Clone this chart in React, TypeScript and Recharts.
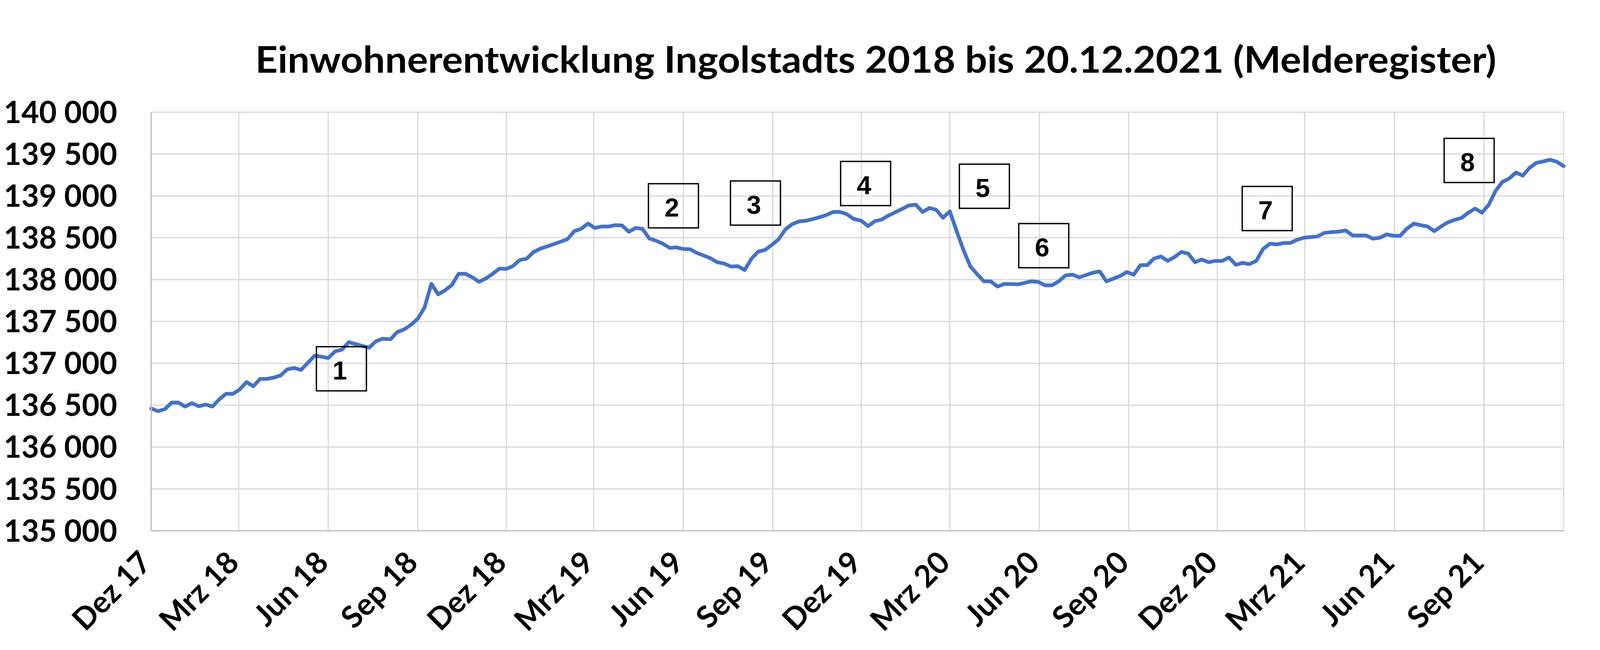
import { CartesianGrid, Line, LineChart, XAxis, YAxis } from "recharts";

// Einwohner Ingolstadt (Melderegister), wöchentliche Stände ab 29.12.2017
const einwohner2018 = [
  136461, 136429, 136452, 136531, 136531, 136484, 136524, 136487, 136508, 136484,
  136571, 136636, 136636, 136688, 136776, 136727, 136814, 136814, 136830, 136855,
  136929, 136945, 136921, 137005, 137092, 137079, 137063, 137142, 137163, 137252,
  137231, 137208, 137187, 137263, 137294, 137287, 137374, 137405, 137460, 137532,
  137666, 137950, 137824, 137871, 137934, 138069, 138069, 138029, 137974, 138013,
  138069, 138132,
];
const einwohner2019 = [
  138127, 138163, 138235, 138250, 138329, 138369, 138396, 138424, 138453, 138484,
  138579, 138606, 138669, 138618, 138634, 138634, 138650, 138647, 138571, 138618,
  138606, 138492, 138464, 138429, 138379, 138385, 138366, 138363, 138319, 138287,
  138255, 138208, 138192, 138156, 138161, 138114, 138248, 138334, 138355, 138414,
  138482, 138600, 138663, 138695, 138703, 138723, 138745, 138771, 138808, 138808,
  138782, 138726,
];
const einwohner2020 = [
  138703, 138639, 138698, 138718, 138766, 138805, 138845, 138887, 138895, 138808,
  138856, 138834, 138739, 138816, 138579, 138354, 138160, 138066, 137980, 137980,
  137917, 137948, 137947, 137943, 137962, 137980, 137972, 137932, 137932, 137980,
  138051, 138059, 138027, 138055, 138082, 138098, 137980, 138011, 138043, 138090,
  138059, 138174, 138174, 138253, 138276, 138224, 138270, 138331, 138311, 138208,
  138240, 138208,
];
const einwohner2021 = [
  138224, 138224, 138264, 138177, 138200, 138185, 138224, 138366, 138429, 138421,
  138437, 138437, 138476, 138500, 138508, 138516, 138558, 138568, 138574, 138587,
  138527, 138527, 138527, 138489, 138500, 138540, 138524, 138524, 138611, 138669,
  138650, 138635, 138579, 138635, 138685, 138714, 138737, 138800, 138848, 138800,
  138895, 139061, 139167, 139208, 139279, 139242, 139337, 139395, 139411, 139432,
  139408, 139356,
];

const tickLabels = [
  "Dez 17", "Mrz 18", "Jun 18", "Sep 18", "Dez 18", "Mrz 19", "Jun 19", "Sep 19",
  "Dez 19", "Mrz 20", "Jun 20", "Sep 20", "Dez 20", "Mrz 21", "Jun 21", "Sep 21",
];
const yTicks = [135000, 135500, 136000, 136500, 137000, 137500, 138000, 138500, 139000, 139500, 140000];
const markers = ["1", "2", "3", "4", "5", "6", "7", "8"];

const DAY = 86400000;
const startDate = Date.UTC(2017, 11, 29);
const endDay = (Date.UTC(2021, 11, 20) - startDate) / DAY;

const values = [...einwohner2018, ...einwohner2019, ...einwohner2020, ...einwohner2021];
const chartData = values.map((v, i) => ({
  day: Math.round((i * endDay) / (values.length - 1)),
  einwohner: v,
}));
const tickDays = tickLabels.map((_, k) => (Date.UTC(2017, 11 + 3 * k, 29) - startDate) / DAY);

// Layout der Boxen in Pixeln (links, oben)
const markerBoxes = [
  [810, 887], [1660, 470], [1870, 463], [2152, 413],
  [2456, 420], [2608, 572], [3180, 477], [3697, 354],
];

const W = 4133;
const H = 1663;
const font = "Lato, 'Open Sans', sans-serif";

const fmt = (v: number) => String(v).replace(/(\d)(?=(\d{3})+$)/g, "$1 ");

const MonthTick = ({ x, y, payload }: any) => {
  const idx = tickDays.indexOf(payload.value);
  const tx = x + 5;
  const ty = y + 86;
  return (
    <text
      x={tx}
      y={ty}
      transform={`rotate(-45, ${tx}, ${ty})`}
      textAnchor="end"
      fontFamily={font}
      fontWeight={700}
      fontSize={78}
      fill="#000"
    >
      {tickLabels[idx]}
    </text>
  );
};

export default function App() {
  return (
    <div style={{ position: "absolute", left: 0, top: 0, width: W, height: H, background: "#fff" }}>
      <LineChart width={W} height={H} data={chartData} margin={{ top: 287, right: 130, bottom: 105, left: 87 }}>
        <CartesianGrid stroke="#d9d9d9" strokeWidth={3} />
        <XAxis
          dataKey="day"
          type="number"
          domain={[0, endDay]}
          ticks={tickDays}
          interval={0}
          height={200}
          tickSize={0}
          tickMargin={0}
          axisLine={{ stroke: "#bfbfbf", strokeWidth: 3 }}
          tickLine={false}
          tick={<MonthTick />}
        />
        <YAxis
          type="number"
          domain={[135000, 140000]}
          ticks={yTicks}
          interval={0}
          width={300}
          tickSize={0}
          tickMargin={87}
          tickFormatter={fmt}
          axisLine={{ stroke: "#bfbfbf", strokeWidth: 3 }}
          tickLine={false}
          tick={{ fontFamily: font, fontWeight: 700, fontSize: 78, fill: "#000" }}
        />
        <Line
          type="linear"
          dataKey="einwohner"
          stroke="#4472C4"
          strokeWidth={9.5}
          strokeLinejoin="round"
          strokeLinecap="round"
          dot={false}
          isAnimationActive={false}
        />
      </LineChart>
      <svg
        width={W}
        height={H}
        style={{ position: "absolute", left: 0, top: 0, pointerEvents: "none" }}
      >
        <text
          x={2242}
          y={186}
          textAnchor="middle"
          fontFamily={font}
          fontWeight={700}
          fontSize={93}
          textLength={3177}
          lengthAdjust="spacingAndGlyphs"
          fill="#000"
        >
          Einwohnerentwicklung Ingolstadts 2018 bis 20.12.2021 (Melderegister)
        </text>
        {markers.map((m, i) => {
          const [bx, by] = markerBoxes[i];
          return (
            <g key={m}>
              <rect x={bx} y={by} width={128} height={113} fill="none" stroke="#000" strokeWidth={3.4} />
              <text
                x={bx + 60}
                y={by + 56 + 4 + 24}
                textAnchor="middle"
                fontFamily="'Liberation Sans', Arial, sans-serif"
                fontWeight={700}
                fontSize={67}
                fill="#000"
              >
                {m}
              </text>
            </g>
          );
        })}
      </svg>
    </div>
  );
}
